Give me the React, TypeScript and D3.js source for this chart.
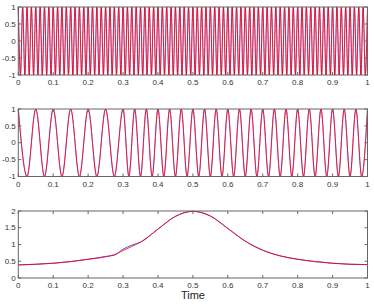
import React from "react";
import * as d3 from "d3";

// tick values / labels
const timeTicks = [0, 0.1, 0.2, 0.3, 0.4, 0.5, 0.6, 0.7, 0.8, 0.9, 1];
const timeLabels = ["0", "0.1", "0.2", "0.3", "0.4", "0.5", "0.6", "0.7", "0.8", "0.9", "1"];
const waveTicks = [-1, -0.5, 0, 0.5, 1];
const waveLabels = ["-1", "-0.5", "0", "0.5", "1"];
const envTicks = [0, 0.5, 1, 1.5, 2];
const envLabels = ["0", "0.5", "1", "1.5", "2"];

// top panel: times of the maxima (+1) and minima (-1)
const topPeaks = [0, 0.0125, 0.025, 0.0375, 0.05, 0.0625, 0.075, 0.0875, 0.1, 0.1125, 0.125, 0.1375, 0.15, 0.1625,
  0.175, 0.1875, 0.2, 0.2125, 0.225, 0.2375, 0.25, 0.2625, 0.275, 0.2875, 0.3, 0.3125, 0.325, 0.3375, 0.35, 0.3625,
  0.375, 0.3875, 0.4, 0.4125, 0.425, 0.4375, 0.45, 0.4625, 0.475, 0.4875, 0.5, 0.5125, 0.525, 0.5375, 0.55, 0.5625,
  0.575, 0.5875, 0.6, 0.6125, 0.625, 0.6375, 0.65, 0.6625, 0.675, 0.6875, 0.7, 0.7125, 0.725, 0.7375, 0.75, 0.7625,
  0.775, 0.7875, 0.8, 0.8125, 0.825, 0.8375, 0.85, 0.8625, 0.875, 0.8875, 0.9, 0.9125, 0.925, 0.9375, 0.95, 0.9625,
  0.975, 0.9875, 1];
const topTroughs = [0.00625, 0.01875, 0.03125, 0.04375, 0.05625, 0.06875, 0.08125, 0.09375, 0.10625, 0.11875, 0.13125,
  0.14375, 0.15625, 0.16875, 0.18125, 0.19375, 0.20625, 0.21875, 0.23125, 0.24375, 0.25625, 0.26875, 0.28125, 0.29375,
  0.30625, 0.31875, 0.33125, 0.34375, 0.35625, 0.36875, 0.38125, 0.39375, 0.40625, 0.41875, 0.43125, 0.44375, 0.45625,
  0.46875, 0.48125, 0.49375, 0.50625, 0.51875, 0.53125, 0.54375, 0.55625, 0.56875, 0.58125, 0.59375, 0.60625, 0.61875,
  0.63125, 0.64375, 0.65625, 0.66875, 0.68125, 0.69375, 0.70625, 0.71875, 0.73125, 0.74375, 0.75625, 0.76875, 0.78125,
  0.79375, 0.80625, 0.81875, 0.83125, 0.84375, 0.85625, 0.86875, 0.88125, 0.89375, 0.90625, 0.91875, 0.93125, 0.94375,
  0.95625, 0.96875, 0.98125, 0.99375];

// middle panel
const midPeaks = [0, 0.05, 0.1, 0.15, 0.2, 0.25, 0.3, 0.3333, 0.3667, 0.4, 0.4333, 0.4667, 0.5, 0.5333, 0.5667, 0.6,
  0.6333, 0.6667, 0.7, 0.7333, 0.7667, 0.8, 0.8333, 0.8667, 0.9, 0.9333, 0.9667, 1];
const midTroughs = [0.025, 0.075, 0.125, 0.175, 0.225, 0.275, 0.3167, 0.35, 0.3833, 0.4167, 0.45, 0.4833, 0.5167,
  0.55, 0.5833, 0.6167, 0.65, 0.6833, 0.7167, 0.75, 0.7833, 0.8167, 0.85, 0.8833, 0.9167, 0.95, 0.9833];

// bottom panel
const envTime = [0, 0.05, 0.1, 0.15, 0.2, 0.225, 0.25, 0.275, 0.3, 0.325, 0.35, 0.4, 0.45, 0.5, 0.55, 0.6, 0.65, 0.7,
  0.75, 0.8, 0.85, 0.9, 0.95, 1];
const envRed = [0.39, 0.41, 0.44, 0.49, 0.56, 0.59, 0.63, 0.7, 0.82, 0.94, 1.07, 1.46, 1.84, 1.99, 1.85, 1.48, 1.1,
  0.83, 0.66, 0.56, 0.49, 0.44, 0.41, 0.4];
const envBlue = [0.39, 0.41, 0.44, 0.49, 0.56, 0.6, 0.645, 0.68, 0.86, 0.98, 1.07, 1.46, 1.84, 1.99, 1.85, 1.48, 1.1,
  0.83, 0.66, 0.56, 0.49, 0.44, 0.41, 0.4];

type Pt = [number, number];

function extrema(peaks: number[], troughs: number[]): Pt[] {
  const pts: Pt[] = [
    ...peaks.map((t) => [t, 1] as Pt),
    ...troughs.map((t) => [t, -1] as Pt),
  ];
  return pts.sort((a, b) => a[0] - b[0]);
}

const L = 18.3, R = 367.5;
const FONT = "'Liberation Sans', Arial, sans-serif";
const AX = "#666";

function Panel({ top, bottom, yDomain, yTicks, yLabels, series, xlabel }: {
  top: number; bottom: number; yDomain: [number, number]; yTicks: number[]; yLabels: string[];
  series: { pts: Pt[]; color: string; w: number }[]; xlabel?: string;
}) {
  const x = d3.scaleLinear().domain([0, 1]).range([L, R]);
  const y = d3.scaleLinear().domain(yDomain).range([bottom, top]);
  const line = d3.line<Pt>().x((d) => x(d[0])).y((d) => y(d[1])).curve(d3.curveMonotoneX);
  const tk = 3;
  return (
    <g>
      {series.map((s, i) => (
        <path key={i} d={line(s.pts) || ""} fill="none" stroke={s.color} strokeWidth={s.w} />
      ))}
      <rect x={L} y={top} width={R - L} height={bottom - top} fill="none" stroke={AX} strokeWidth={1} />
      {timeTicks.map((t, i) => (
        <g key={"x" + i}>
          <line x1={x(t)} x2={x(t)} y1={bottom} y2={bottom - tk} stroke={AX} />
          <line x1={x(t)} x2={x(t)} y1={top} y2={top + tk} stroke={AX} />
          <text x={x(t)} y={bottom + 10} fontSize={8} fontFamily={FONT} textAnchor="middle" fill="#333">
            {timeLabels[i]}
          </text>
        </g>
      ))}
      {yTicks.map((v, i) => (
        <g key={"y" + i}>
          <line x1={L} x2={L + tk} y1={y(v)} y2={y(v)} stroke={AX} />
          <line x1={R} x2={R - tk} y1={y(v)} y2={y(v)} stroke={AX} />
          <text x={L - 2.5} y={y(v)} dy="0.33em" fontSize={8} fontFamily={FONT} textAnchor="end" fill="#333">
            {yLabels[i]}
          </text>
        </g>
      ))}
      {xlabel && (
        <text x={x(0.5)} y={bottom + 21} fontSize={11} fontFamily={FONT} textAnchor="middle" fill="#222">
          {xlabel}
        </text>
      )}
    </g>
  );
}

export default function App() {
  const topPts = extrema(topPeaks, topTroughs);
  const midPts = extrema(midPeaks, midTroughs);
  const redEnv: Pt[] = envTime.map((t, i) => [t, envRed[i]]);
  const blueEnv: Pt[] = envTime.map((t, i) => [t, envBlue[i]]);
  return (
    <svg width={374} height={304} style={{ position: "absolute", left: 0, top: 0, background: "#fff" }}>
      <Panel top={7} bottom={75} yDomain={[-1, 1]} yTicks={waveTicks} yLabels={waveLabels}
        series={[{ pts: topPts, color: "#0000ff", w: 0.5 }, { pts: topPts, color: "#ff0000", w: 0.8 }]} />
      <Panel top={109} bottom={176.5} yDomain={[-1, 1]} yTicks={waveTicks} yLabels={waveLabels}
        series={[{ pts: midPts, color: "#0000ff", w: 0.5 }, { pts: midPts, color: "#ff0000", w: 0.8 }]} />
      <Panel top={211} bottom={278} yDomain={[0, 2]} yTicks={envTicks} yLabels={envLabels}
        series={[{ pts: blueEnv, color: "#0000ff", w: 0.7 }, { pts: redEnv, color: "#ff0000", w: 0.8 }]} xlabel="Time" />
    </svg>
  );
}
